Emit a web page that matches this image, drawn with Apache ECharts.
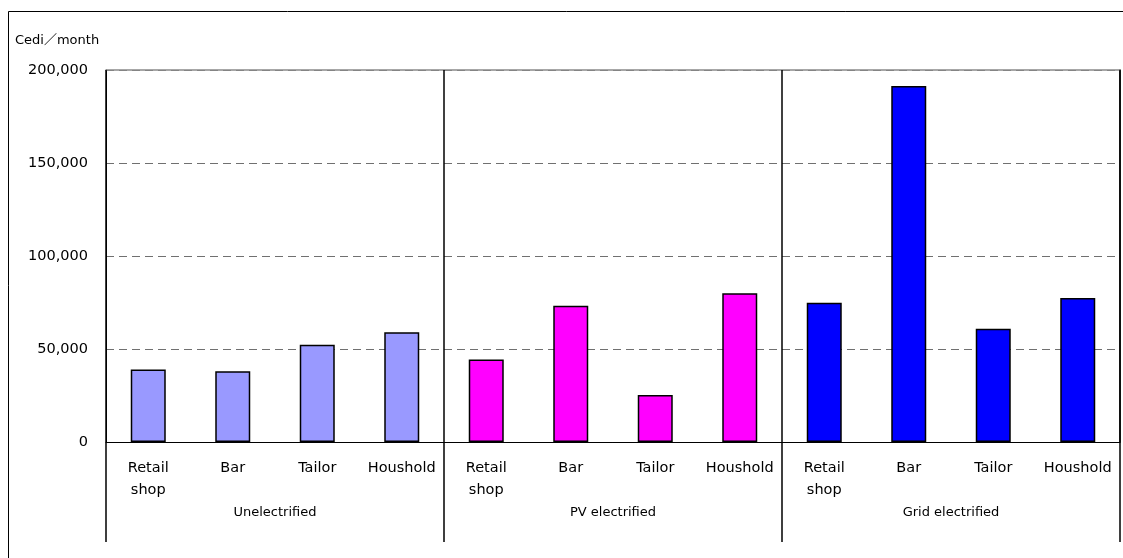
<!DOCTYPE html>
<html>
<head>
<meta charset="utf-8">
<script src="https://cdn.jsdelivr.net/npm/echarts@6/dist/echarts.min.js"></script>
<style>
  html, body { margin: 0; padding: 0; background: #ffffff; }
  #chart { width: 1123px; height: 558px; }
</style>
</head>
<body>
<div id="chart"></div>
<script>
// Monthly income (Cedi) by business type and electrification status
const groups = ['Unelectrified', 'PV electrified', 'Grid electrified'];
const businessTypes = ['Retail\nshop', 'Bar', 'Tailor', 'Houshold'];
const unelectrified = [39000, 38000, 52300, 59000];
const pvElectrified = [44300, 73300, 25300, 80000];
const gridElectrified = [74900, 191400, 60900, 77400];
const groupColors = ['#9999FF', '#FF00FF', '#0000FF'];
const yTicks = [0, 50000, 100000, 150000, 200000];

const seriesByGroup = [unelectrified, pvElectrified, gridElectrified];
const categories = [];
const values = [];
seriesByGroup.forEach((vals, g) => {
  vals.forEach((v, i) => {
    categories.push(businessTypes[i]);
    values.push({ value: v, itemStyle: { color: groupColors[g] } });
  });
});

const FONT = 'DejaVu Sans, sans-serif';

const chart = echarts.init(document.getElementById('chart'), null, { renderer: 'canvas' });
chart.setOption({
  animation: false,
  backgroundColor: '#ffffff',
  grid: { left: 106, right: 3, top: 70, bottom: 116, containLabel: false },
  xAxis: [
    {
      type: 'category',
      data: categories,
      position: 'bottom',
      axisLine: { show: true, lineStyle: { color: '#000', width: 1 } },
      axisTick: { show: false },
      axisLabel: {
        color: '#000', fontFamily: FONT, fontSize: 14.5,
        lineHeight: 22, margin: 15, interval: 0
      },
      splitLine: { show: false },
      z: 5
    },
    {
      type: 'category',
      data: groups,
      position: 'bottom',
      axisLine: { show: false },
      axisTick: { show: true, inside: false, length: 100, lineStyle: { color: '#000', width: 1.5 } },
      axisLabel: { color: '#000', fontFamily: FONT, fontSize: 13, margin: 64 },
      splitLine: { show: true, lineStyle: { color: '#000', width: 1.5, type: 'solid' } },
      z: 4
    },
    {
      type: 'category',
      data: groups,
      position: 'top',
      axisLine: { show: true, lineStyle: { color: '#8a8a8a', width: 1.5 } },
      axisTick: { show: false },
      axisLabel: { show: false },
      splitLine: { show: false }
    }
  ],
  yAxis: [
    {
      type: 'value',
      min: yTicks[0],
      max: yTicks[yTicks.length - 1],
      interval: yTicks[1] - yTicks[0],
      position: 'left',
      axisLine: { show: true, lineStyle: { color: '#000', width: 1 } },
      axisTick: { show: false },
      axisLabel: {
        color: '#000', fontFamily: FONT, fontSize: 14.5, margin: 18,
        formatter: v => v.toLocaleString('en-US')
      },
      splitLine: { show: true, lineStyle: { color: '#707070', width: 1, type: [8, 5] } }
    },
    {
      type: 'value',
      min: yTicks[0],
      max: yTicks[yTicks.length - 1],
      position: 'right',
      axisLine: { show: true, lineStyle: { color: '#000', width: 1.5 } },
      axisTick: { show: false },
      axisLabel: { show: false },
      splitLine: { show: false }
    }
  ],
  series: [
    {
      type: 'bar',
      xAxisIndex: 0,
      yAxisIndex: 0,
      data: values,
      barWidth: 35,
      itemStyle: { borderColor: '#000', borderWidth: 1.5 },
      z: 3
    }
  ],
  graphic: [
    {
      type: 'rect',
      silent: true,
      shape: { x: 8.5, y: 11.5, width: 1300, height: 700 },
      style: { fill: 'none', stroke: '#000', lineWidth: 1 }
    },
    {
      type: 'text',
      left: 15,
      top: 34,
      style: {
        text: 'Cedi／month',
        fill: '#000',
        font: '13px "DejaVu Sans", "Noto Sans CJK JP", sans-serif'
      }
    }
  ]
});
</script>
</body>
</html>
